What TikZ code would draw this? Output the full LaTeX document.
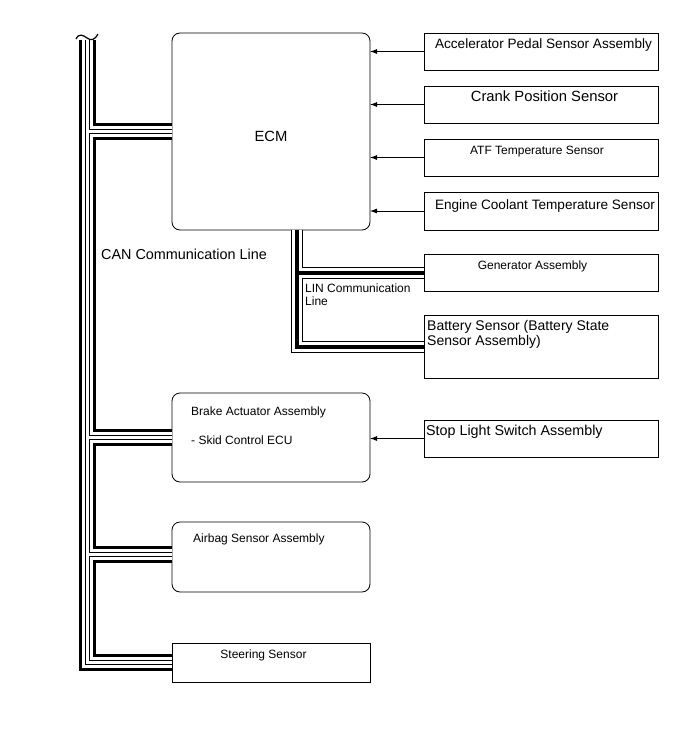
\documentclass[tikz,border=0pt]{standalone}
\usepackage{fontspec}
\setmainfont{Liberation Sans}
\usetikzlibrary{positioning,arrows.meta,calc}

\begin{document}
\begin{tikzpicture}[x=1pt, y=1pt,
  font=\fontsize{13.6}{15}\selectfont, >={Latex[length=7pt,width=5pt]},
  box/.style={draw, line width=0.8pt, inner sep=0pt, outer sep=0pt},
  unit/.style={box, rounded corners=8pt, minimum width=198pt},
  part/.style={box, minimum width=234pt},
  txt/.style={inner sep=0pt, text height=10pt, text depth=3pt},
  mtxt/.style={inner sep=0pt, align=left},
  small/.style={font=\fontsize{12}{13}\selectfont},
  big/.style={font=\fontsize{#1}{15}\selectfont},
]
\useasboundingbox (0,0) rectangle (688,-755);

% control units (left column)
\node[unit, minimum height=197pt, label={[txt, big=14.8, yshift=-6pt]center:ECM}] (ecm) at (271,-131.5) {};
\node[unit, minimum height=89pt, below=163pt of ecm] (brake) {};
\node[unit, minimum height=70pt, below=40pt of brake] (air) {};
\node[box, minimum width=198pt, minimum height=39pt, below=51pt of air] (steer) {};

% sensors (right column)
\node[part, minimum height=37pt, anchor=north west] (acc) at (424,-33) {};
\node[part, minimum height=37pt, below=16pt of acc] (crank) {};
\node[part, minimum height=37pt, below=16pt of crank] (atf) {};
\node[part, minimum height=38pt, below=16pt of atf] (eng) {};
\node[part, minimum height=37pt, below=24pt of eng] (gen) {};
\node[part, minimum height=63pt, below=24pt of gen] (bat) {};
\node[part, minimum height=37pt, below=42pt of bat] (stop) {};

% sensor signals
\foreach \s in {acc,crank,atf,eng}
  \draw[->, line width=0.8pt] (\s.west) -- (\s.west -| ecm.east);
\draw[->, line width=0.8pt] (stop.west) -- (stop.west -| brake.east);

% CAN bus
\coordinate (can) at (87,-40);
\foreach \w/\c in {17/black,11/white,5/black,3/white}{
  \draw[line width=\w pt, draw=\c]
    (can) -- (can |- steer.west) -- (steer.west)
    (can |- ecm.west) -- (ecm.west)
    (can |- brake.west) -- (brake.west)
    ([yshift=3pt]can |- air.west) -- ([yshift=3pt]air.west);
}
\draw[line width=1.2pt] (76,-39) .. controls (79,-33) and (83,-35) .. (87,-38)
  .. controls (91,-41) and (95,-40) .. (98,-34);

% LIN bus
\coordinate (lin) at (297,0);
\foreach \w/\c in {12/black,10/white,4/black}{
  \draw[line width=\w pt, draw=\c]
    (ecm.south -| lin) -- (lin |- bat.west) -- (bat.west)
    (lin |- gen.west) -- (gen.west);
}

% texts
\node[txt, below=5pt of acc.north, xshift=2.5pt] {Accelerator Pedal Sensor Assembly};
\node[txt, big=14.8, below=5pt of crank.north, xshift=3.5pt] {Crank Position Sensor};
\node[txt, small, below=5pt of atf.north, xshift=-4pt] {ATF Temperature Sensor};
\node[txt, below=7pt of eng.north, xshift=4pt] {Engine Coolant Temperature Sensor};
\node[txt, small, below=5pt of gen.north, xshift=-8.5pt] {Generator Assembly};
\node[mtxt, big=14, below right=5pt and 3pt of bat.north west] {Battery Sensor (Battery State\\Sensor Assembly)};
\node[txt, big=14.3, below right=5pt and 2pt of stop.north west] {Stop Light Switch Assembly};
\node[mtxt, small, below right=14pt and 19pt of brake.north west] {Brake Actuator Assembly\\[16pt]- Skid Control ECU};
\node[txt, small, below right=10pt and 21pt of air.north west] {Airbag Sensor Assembly};
\node[txt, small, below=5pt of steer.north, xshift=-7.5pt] {Steering Sensor};
\node[txt, big=14.4, anchor=north west] (canlbl) at (101,-249) {CAN Communication Line};
\node[mtxt, small, anchor=north west] (linlbl) at (305,-284) {LIN Communication\\Line};
\end{tikzpicture}
\end{document}
